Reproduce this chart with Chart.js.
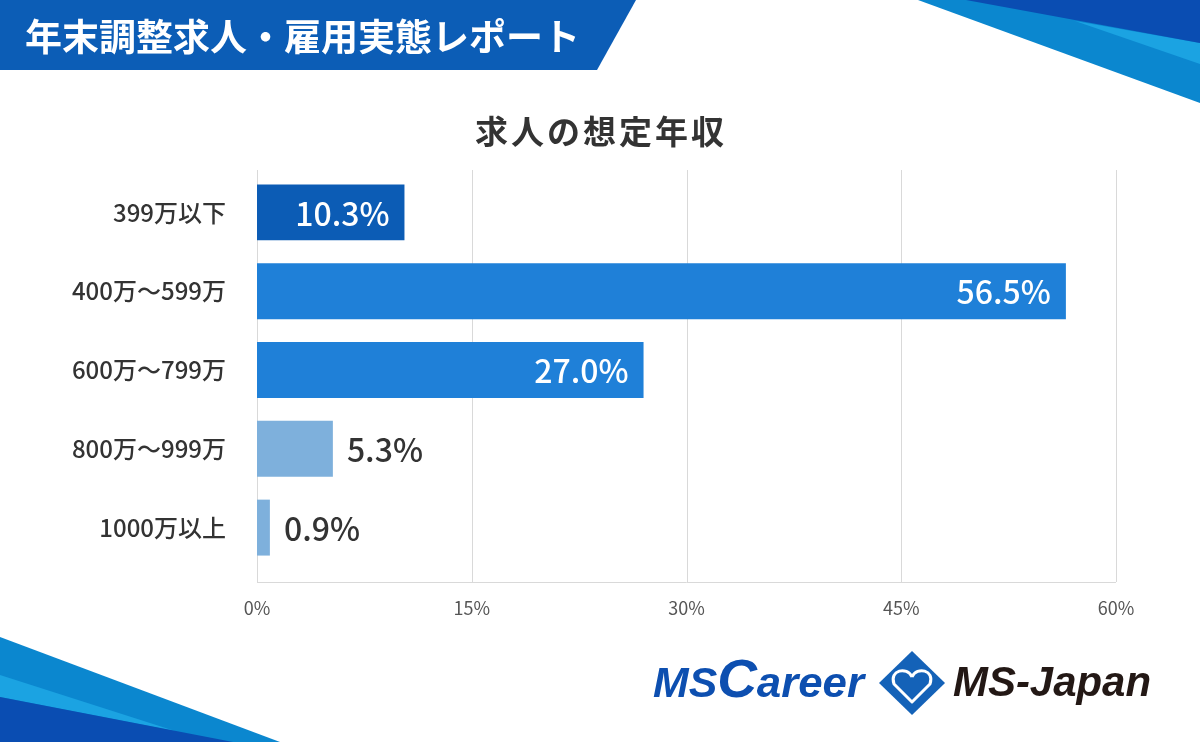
<!DOCTYPE html>
<html lang="ja">
<head>
<meta charset="utf-8">
<title>求人の想定年収</title>
<script src="https://cdn.jsdelivr.net/npm/chart.js@4.4.1/dist/chart.umd.min.js"></script>
<style>
  html, body { margin: 0; padding: 0; background: #fff; }
  #wrap { width: 1200px; height: 742px; }
</style>
</head>
<body>
<div id="wrap"><canvas id="bar-chart" width="1200" height="742"></canvas></div>
<script>
// data
var categories = ["399万以下", "400万～599万", "600万～799万", "800万～999万", "1000万以上"];
var shares = [10.3, 56.5, 27.0, 5.3, 0.9];
var xTicks = [0, 15, 30, 45, 60];

var FONT = "'Noto Sans CJK JP', 'Noto Sans', sans-serif";
var barColors = ['#0c5cb5', '#1f80d8', '#1f80d8', '#7eb0dc', '#7eb0dc'];
var chartTitle = '求人の想定年収';

function poly(ctx, color, pts) {
    ctx.fillStyle = color;
    ctx.beginPath();
    ctx.moveTo(pts[0][0], pts[0][1]);
    for (var i = 1; i < pts.length; i++) ctx.lineTo(pts[i][0], pts[i][1]);
    ctx.closePath();
    ctx.fill();
}

// draws text pieces one after another, squeezed to a target width
function logoText(ctx, parts, x, baseline, width, color) {
    var total = 0;
    parts.forEach(function (p) { ctx.font = p.font; total += ctx.measureText(p.text).width; });
    ctx.save();
    ctx.translate(x, baseline);
    ctx.scale(width / total, 1);
    ctx.fillStyle = color;
    ctx.textBaseline = 'alphabetic';
    ctx.textAlign = 'left';
    var cx = 0;
    parts.forEach(function (p) {
        ctx.font = p.font;
        ctx.fillText(p.text, cx, 0);
        cx += ctx.measureText(p.text).width;
    });
    ctx.restore();
}

var decorations = {
    id: 'decorations',
    beforeDraw: function (chart) {
        var ctx = chart.ctx;
        ctx.save();
        ctx.fillStyle = '#fff';
        ctx.fillRect(0, 0, chart.width, chart.height);

        // header band
        poly(ctx, '#0c5db6', [[0, 0], [636, 0], [597, 70], [0, 70]]);
        ctx.fillStyle = '#fff';
        ctx.font = 'bold 37px ' + FONT;
        ctx.textBaseline = 'middle';
        ctx.textAlign = 'left';
        ctx.fillText('年末調整求人・雇用実態レポート', 25, 37);

        // top right corner
        poly(ctx, '#0b87cf', [[918, 0], [1200, 0], [1200, 103]]);
        poly(ctx, '#1ba3e2', [[1075, 21], [1200, 43], [1200, 64]]);
        poly(ctx, '#0a4db2', [[966, 0], [1200, 0], [1200, 43]]);

        // bottom left corner
        poly(ctx, '#0b87cf', [[0, 637], [280, 742], [0, 742]]);
        poly(ctx, '#1ba3e2', [[0, 675], [175, 731], [0, 697]]);
        poly(ctx, '#0a4db2', [[0, 697], [233, 742], [0, 742]]);

        // chart title, centred on the page
        ctx.fillStyle = '#333';
        ctx.font = 'bold 33px ' + FONT;
        ctx.letterSpacing = '3px';
        ctx.textAlign = 'center';
        ctx.fillText(chartTitle, 601, 131);
        ctx.restore();
    },
    afterDraw: function (chart) {
        var ctx = chart.ctx;
        var heavy = 'italic bold ';
        logoText(ctx, [
            { text: 'MS', font: heavy + '42px "Liberation Sans"' },
            { text: 'C', font: heavy + '54px "Liberation Sans"' },
            { text: 'areer', font: heavy + '43px "Liberation Sans"' }
        ], 653, 697, 211, '#0d4fb0');
        logoText(ctx, [
            { text: 'MS-Japan', font: heavy + '42px "Liberation Sans"' }
        ], 953, 696, 198, '#231815');

        // diamond mark
        var cx = 912, cy = 683;
        ctx.save();
        poly(ctx, '#1462b8', [[cx, cy - 32], [cx + 33, cy], [cx, cy + 32], [cx - 33, cy]]);
        ctx.strokeStyle = '#fff';
        ctx.lineWidth = 3;
        ctx.lineJoin = 'round';
        ctx.beginPath();
        ctx.moveTo(cx, cy - 6);
        ctx.bezierCurveTo(cx - 5, cy - 17, cx - 23, cy - 13, cx - 18, cy + 1);
        ctx.lineTo(cx, cy + 19);
        ctx.lineTo(cx + 18, cy + 1);
        ctx.bezierCurveTo(cx + 23, cy - 13, cx + 5, cy - 17, cx, cy - 6);
        ctx.stroke();
        ctx.restore();
    }
};

var gridLines = {
    id: 'gridLines',
    beforeDatasetsDraw: function (chart) {
        var ctx = chart.ctx, x = chart.scales.x, area = chart.chartArea;
        var top = area.top - 3, bottom = area.bottom + 15;
        ctx.save();
        ctx.strokeStyle = '#d9d9d9';
        ctx.lineWidth = 1;
        ctx.beginPath();
        x.ticks.forEach(function (t) {
            var px = Math.round(x.getPixelForValue(t.value)) + 0.5;
            ctx.moveTo(px, top);
            ctx.lineTo(px, bottom);
        });
        ctx.moveTo(x.left, bottom + 0.5);
        ctx.lineTo(x.right, bottom + 0.5);
        ctx.stroke();
        ctx.restore();
    }
};

var valueLabels = {
    id: 'valueLabels',
    afterDatasetsDraw: function (chart) {
        var ctx = chart.ctx;
        var meta = chart.getDatasetMeta(0);
        ctx.save();
        ctx.font = '500 32px ' + FONT;
        ctx.textBaseline = 'middle';
        meta.data.forEach(function (bar, i) {
            var v = shares[i];
            var txt = v.toFixed(1) + '%';
            if (v > 8) {
                ctx.fillStyle = '#fff';
                ctx.textAlign = 'right';
                ctx.fillText(txt, bar.x - 15, bar.y + 1);
            } else {
                ctx.fillStyle = '#333';
                ctx.textAlign = 'left';
                ctx.fillText(txt, bar.x + 14, bar.y + 1);
            }
        });
        ctx.restore();
    }
};

var ctx = document.getElementById('bar-chart');
var chart = new Chart(ctx, {
    type: 'bar',
    data: {
        labels: categories,
        datasets: [{
            data: shares,
            backgroundColor: barColors,
            barPercentage: 0.71,
            categoryPercentage: 1
        }]
    },
    options: {
        indexAxis: 'y',
        responsive: false,
        animation: false,
        devicePixelRatio: 1,
        layout: { padding: { top: 173, right: 84, bottom: 0, left: 0 } },
        plugins: {
            legend: { display: false },
            tooltip: { enabled: false },
            title: { display: false }
        },
        scales: {
            x: {
                min: 0,
                max: 60,
                afterBuildTicks: function (scale) {
                    scale.ticks = xTicks.map(function (v) { return { value: v }; });
                },
                afterFit: function (scale) { scale.height = 175; },
                grid: { display: false, drawTicks: false },
                border: { display: false },
                ticks: {
                    callback: function (v) { return v + '%'; },
                    color: '#555',
                    font: { family: FONT, size: 18 },
                    padding: 30
                }
            },
            y: {
                afterFit: function (scale) { scale.width = 257; },
                grid: { display: false, drawTicks: false },
                border: { display: false },
                ticks: {
                    color: '#333',
                    font: { family: FONT, size: 24, weight: '500' },
                    padding: 31
                }
            }
        }
    },
    plugins: [decorations, gridLines, valueLabels]
});
</script>
</body>
</html>
